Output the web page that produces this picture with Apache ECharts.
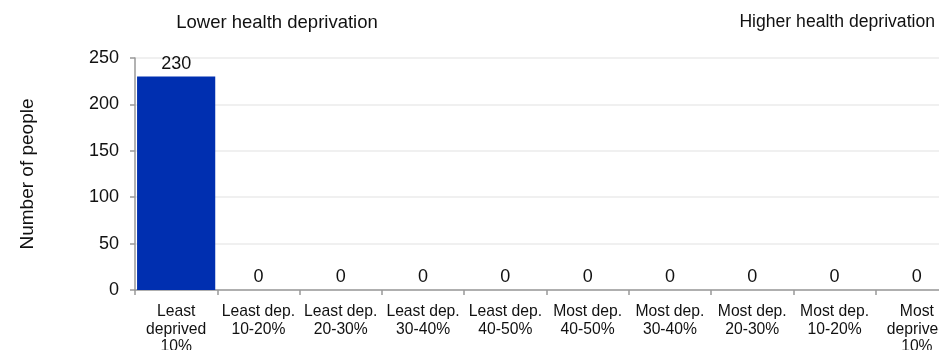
<!DOCTYPE html>
<html>
<head>
<meta charset="utf-8">
<script src="https://cdn.jsdelivr.net/npm/echarts@6/dist/echarts.min.js"></script>
<style>
	html, body { margin: 0; padding: 0; background: #fff; }
	#chart { width: 939px; height: 350px; }
</style>
</head>
<body>
<div id="chart"></div>
<script>
	// 类别与数值
	const categories = [
		'Least\ndeprived\n10%',
		'Least dep.\n10-20%',
		'Least dep.\n20-30%',
		'Least dep.\n30-40%',
		'Least dep.\n40-50%',
		'Most dep.\n40-50%',
		'Most dep.\n30-40%',
		'Most dep.\n20-30%',
		'Most dep.\n10-20%',
		'Most\ndeprived\n10%'
	]
	const peopleCounts = [230, 0, 0, 0, 0, 0, 0, 0, 0, 0]
	const yTicks = [0, 50, 100, 150, 200, 250]

	const font = 'Liberation Sans, Arial, sans-serif'
	const myCharts = echarts.init(document.getElementById('chart'))
	const option = {
		animation: false,
		title: [
			{
				text: 'Lower health deprivation',
				left: 272,
				top: 8,
				textAlign: 'center',
				textStyle: { color: '#111', fontSize: 18.5, fontWeight: 'normal', fontFamily: font }
			},
			{
				text: 'Higher health deprivation',
				left: 930,
				top: 8,
				textAlign: 'right',
				textStyle: { color: '#111', fontSize: 17.6, fontWeight: 'normal', fontFamily: font }
			}
		],
		grid: {
			left: 135,
			top: 58,
			width: 823,
			height: 232,
			containLabel: false,
			outerBoundsMode: 'none'
		},
		xAxis: {
			type: 'category',
			data: categories,
			axisLine: { lineStyle: { color: '#999', width: 1.5 } },
			axisTick: { show: true, length: 5, lineStyle: { color: '#999', width: 1.5 } },
			axisLabel: {
				color: '#111',
				fontSize: 15.7,
				lineHeight: 17.5,
				margin: 13,
				interval: 0,
				fontFamily: font
			}
		},
		yAxis: {
			type: 'value',
			min: yTicks[0],
			max: yTicks[yTicks.length - 1],
			interval: 50,
			name: 'Number of people',
			nameLocation: 'middle',
			nameRotate: 90,
			nameGap: 98,
			nameTextStyle: { color: '#111', fontSize: 19, fontFamily: font },
			axisLine: { show: true, lineStyle: { color: '#999', width: 1.5 } },
			axisTick: { show: true, length: 5, lineStyle: { color: '#999', width: 1.5 } },
			axisLabel: { color: '#111', fontSize: 18, margin: 16, fontFamily: font },
			splitLine: { show: true, lineStyle: { color: '#ebebeb', width: 1.5 } }
		},
		series: [
			{
				type: 'bar',
				data: peopleCounts,
				barCategoryGap: '5%',
				itemStyle: { color: '#002fb0' },
				label: {
					show: true,
					position: 'top',
					distance: 4,
					color: '#111',
					fontSize: 18,
					fontFamily: font
				}
			}
		]
	}
	myCharts.setOption(option)
</script>
</body>
</html>
